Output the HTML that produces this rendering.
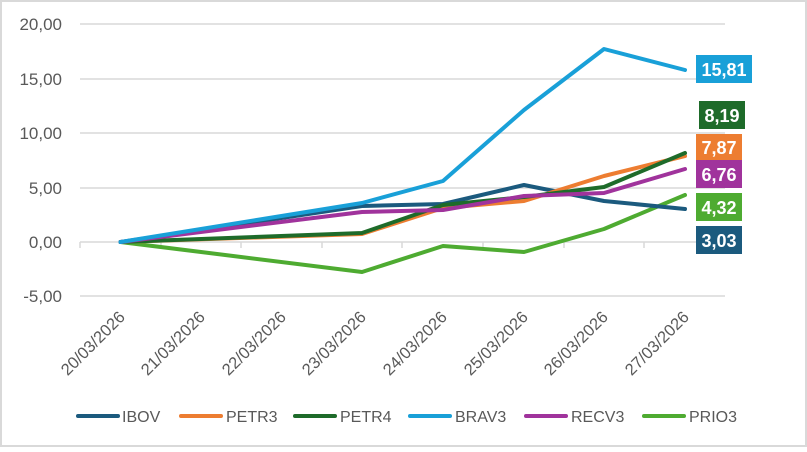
<!DOCTYPE html>
<html><head><style>
body{margin:0;background:#fff}
svg text{font-family:"Liberation Sans",sans-serif}
</style></head><body>
<svg width="807" height="447" viewBox="0 0 807 447" xmlns="http://www.w3.org/2000/svg">
<rect x="1" y="1" width="805" height="445" fill="#fff" stroke="#d9d9d9" stroke-width="2"/>
<g stroke="#d9d9d9" stroke-width="1.5">
<line x1="80" y1="24" x2="725" y2="24"/>
<line x1="80" y1="79" x2="725" y2="79"/>
<line x1="80" y1="133" x2="725" y2="133"/>
<line x1="80" y1="188" x2="725" y2="188"/>
<line x1="80" y1="242" x2="725" y2="242"/>
<line x1="80" y1="296" x2="725" y2="296"/>
<line x1="80" y1="242" x2="80" y2="248"/><line x1="161" y1="242" x2="161" y2="248"/><line x1="241" y1="242" x2="241" y2="248"/><line x1="322" y1="242" x2="322" y2="248"/><line x1="402" y1="242" x2="402" y2="248"/><line x1="483" y1="242" x2="483" y2="248"/><line x1="564" y1="242" x2="564" y2="248"/><line x1="644" y1="242" x2="644" y2="248"/>
</g>
<g font-size="17" fill="#595959" text-anchor="end">
<text x="62" y="30">20,00</text><text x="62" y="85">15,00</text><text x="62" y="139">10,00</text><text x="62" y="194">5,00</text><text x="62" y="248">0,00</text><text x="62" y="302">-5,00</text>
</g>
<g font-size="16.5" fill="#595959" text-anchor="end">
<text transform="translate(126,318) rotate(-45)">20/03/2026</text>
<text transform="translate(206,318) rotate(-45)">21/03/2026</text>
<text transform="translate(287,318) rotate(-45)">22/03/2026</text>
<text transform="translate(367,318) rotate(-45)">23/03/2026</text>
<text transform="translate(448,318) rotate(-45)">24/03/2026</text>
<text transform="translate(529,318) rotate(-45)">25/03/2026</text>
<text transform="translate(609,318) rotate(-45)">26/03/2026</text>
<text transform="translate(690,318) rotate(-45)">27/03/2026</text>
</g>
<g fill="none" stroke-width="4" stroke-linejoin="round" stroke-linecap="round">
<polyline stroke="#4eab31" points="120.5,242 362,272 443,246 524,252 604,229 685,195"/>
<polyline stroke="#1b5a7e" points="120.5,242 362,206 443,204 524,185 604,201 685,209"/>
<polyline stroke="#ed7d31" points="120.5,242 362,234 443,208 524,201 604,176 685,156"/>
<polyline stroke="#1e6b2a" points="120.5,242 362,233 443,205 524,197 604,187 685,153"/>
<polyline stroke="#a0339c" points="120.5,242 362,212 443,210 524,196 604,193 685,169"/>
<polyline stroke="#19a0d8" points="120.5,242 362,203 443,181 524,110 604,49 685,70"/>
</g>
<g font-size="18" font-weight="bold" fill="#fff" text-anchor="middle">
<rect x="696" y="55" width="56" height="28" fill="#19a0d8"/><text x="724" y="76">15,81</text>
<rect x="699" y="101" width="46" height="28" fill="#1e6b2a"/><text x="722" y="122">8,19</text>
<rect x="696" y="134" width="46" height="26" fill="#ed7d31"/><text x="719" y="154">7,87</text>
<rect x="696" y="160" width="46" height="28" fill="#a0339c"/><text x="719" y="181">6,76</text>
<rect x="696" y="193" width="46" height="28" fill="#4eab31"/><text x="719" y="214">4,32</text>
<rect x="696" y="226" width="46" height="28" fill="#1b5a7e"/><text x="719" y="247">3,03</text>
</g>
<g stroke-width="4" stroke-linecap="round">
<line x1="78" y1="416" x2="118" y2="416" stroke="#1b5a7e"/>
<line x1="181" y1="416" x2="221" y2="416" stroke="#ed7d31"/>
<line x1="295" y1="416" x2="335" y2="416" stroke="#1e6b2a"/>
<line x1="410" y1="416" x2="450" y2="416" stroke="#19a0d8"/>
<line x1="526" y1="416" x2="566" y2="416" stroke="#a0339c"/>
<line x1="644" y1="416" x2="684" y2="416" stroke="#4eab31"/>
</g>
<g font-size="16" fill="#595959">
<text x="122" y="422">IBOV</text>
<text x="226" y="422">PETR3</text>
<text x="340" y="422">PETR4</text>
<text x="455" y="422">BRAV3</text>
<text x="571" y="422">RECV3</text>
<text x="689" y="422">PRIO3</text>
</g>
</svg>
</body></html>
